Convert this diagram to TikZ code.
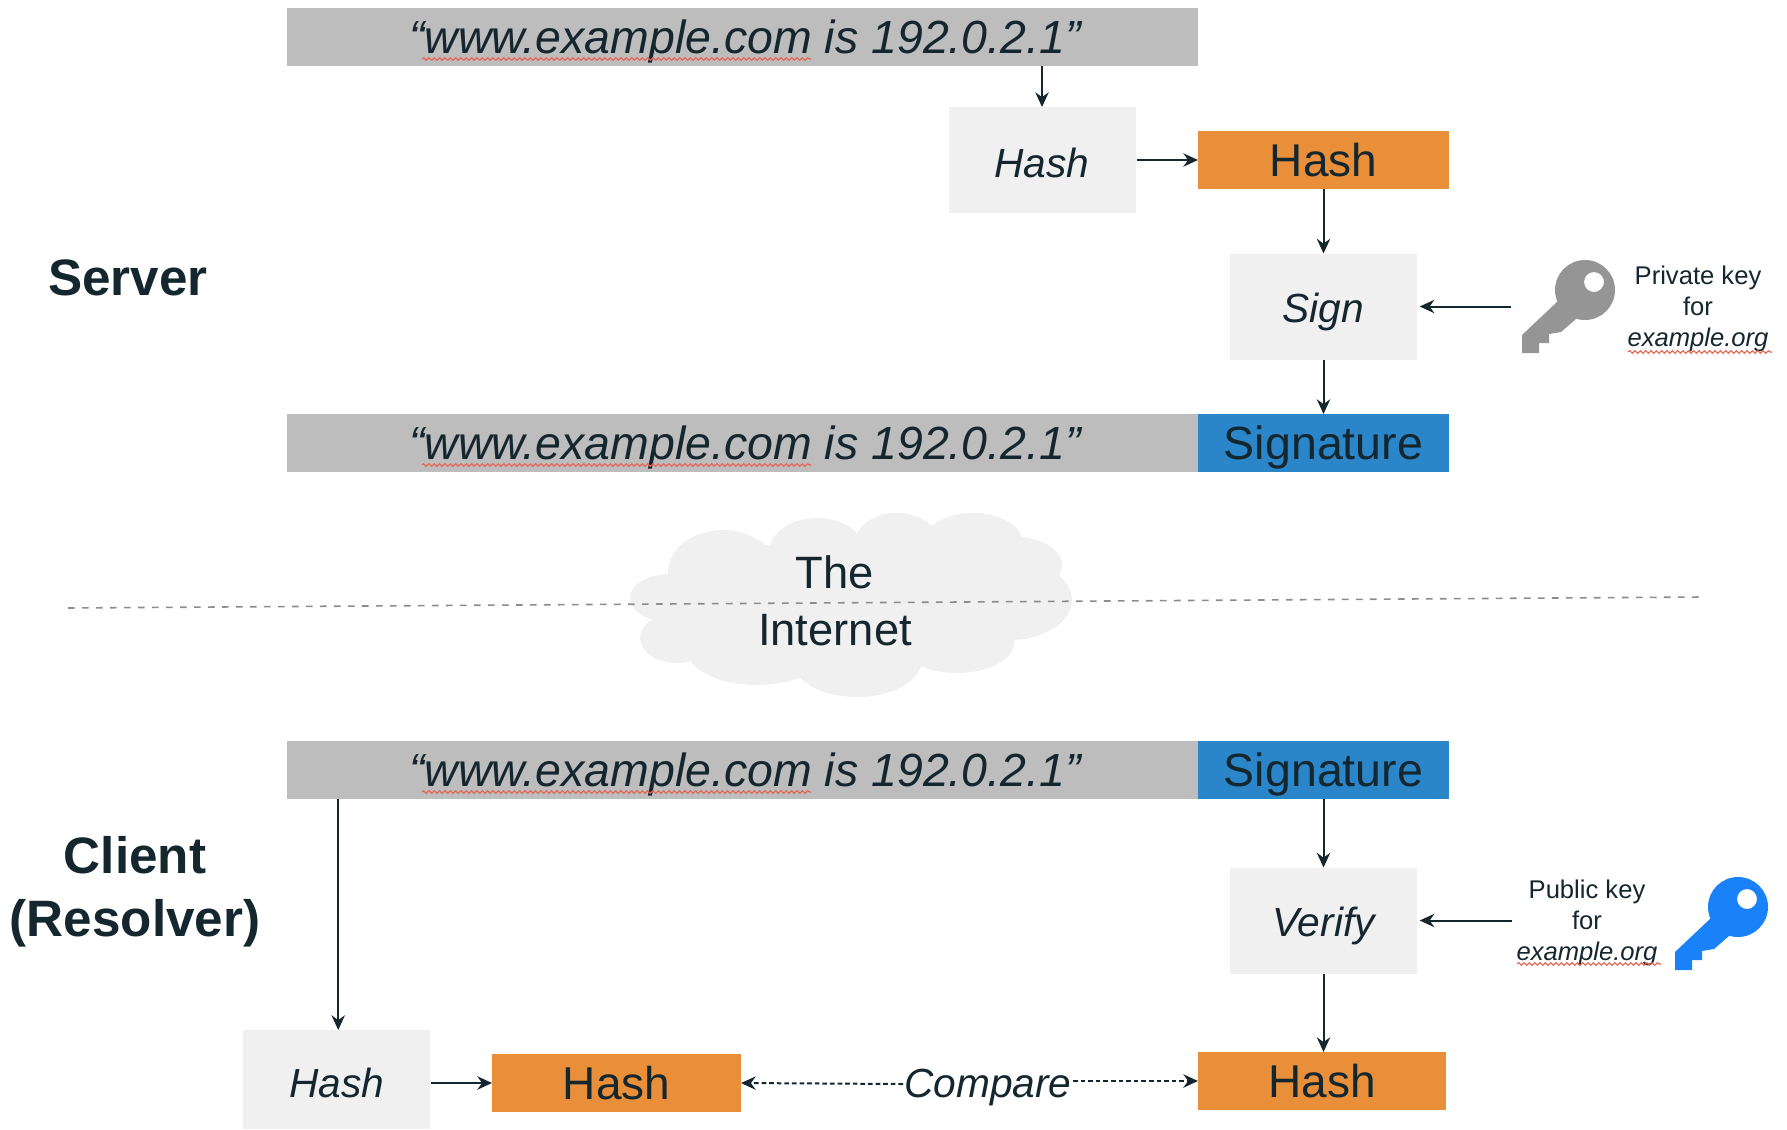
\documentclass[tikz,border=0pt]{standalone}
\usepackage{fontspec}
\setmainfont{Liberation Sans}
\usetikzlibrary{arrows.meta,decorations.pathmorphing}
\definecolor{ink}{HTML}{14262E}
\definecolor{barfill}{HTML}{BDBDBD}
\definecolor{softfill}{HTML}{F0F0F0}
\definecolor{hashfill}{HTML}{E98F3A}
\definecolor{sigfill}{HTML}{2A85C9}
\definecolor{keygray}{HTML}{959595}
\definecolor{keyblue}{HTML}{1A82F8}
\definecolor{spellred}{HTML}{E8604C}
\definecolor{dividergray}{HTML}{8C8C8C}
\tikzset{
  base/.style={inner sep=0pt,outer sep=0pt,text=ink,align=center},
  barbox/.style={base,fill=barfill,minimum width=683.25pt,minimum height=43.5pt,text height=32.4pt,text depth=7.6pt,font=\fontsize{34.85}{40}\selectfont\itshape},
  softbox/.style={base,fill=softfill,minimum width=140.25pt,minimum height=79.5pt,font=\fontsize{30.5}{36}\selectfont\itshape},
  softhash/.style={softbox,text height=33.3pt,text depth=6.7pt},
  softverb/.style={softbox,text height=32pt,text depth=8pt},
  hashbox/.style={base,fill=hashfill,minimum width=188pt,minimum height=43.5pt,text height=32.6pt,text depth=7.4pt,font=\fontsize{34.5}{40}\selectfont},
  sigbox/.style={base,fill=sigfill,minimum width=188.25pt,minimum height=43.5pt,text height=32.4pt,text depth=7.6pt,font=\fontsize{34.9}{40}\selectfont},
  rolelabel/.style={base,font=\fontsize{38.4}{47}\selectfont\bfseries},
  keylabel/.style={base,font=\fontsize{19.2}{23.4}\selectfont},
  cloudlabel/.style={base,font=\fontsize{34}{43}\selectfont},
  link/.style={draw=ink,line width=1.5pt,-{Stealth[length=11pt,width=10pt]}},
  cmplink/.style={link,line width=1.5pt,dash pattern=on 3.5pt off 2.2pt},
  divider/.style={draw=dividergray,line width=1.2pt,dash pattern=on 5pt off 5.5pt},
  spell/.style={draw=spellred,line width=.8pt,decorate,decoration={snake,segment length=4pt,amplitude=1pt}},
  pics/keyicon/.style={code={
    \fill[#1,even odd rule]
      (63,29) ellipse [x radius=30,y radius=30]
      (72,21) ellipse [x radius=10,y radius=10];
    \fill[#1] (38,42) -- (36,40) -- (0,74) -- (0,92) -- (17,92) -- (17,82) -- (27,82) -- (27,73)
      -- (39,71) -- (54,58) -- (60,40) -- cycle;
  }}
}
\begin{document}
\begin{tikzpicture}[x=0.75pt,y=-0.75pt]
\useasboundingbox (0,0) rectangle (1787,1129);

% cloud
\fill[softfill]
  (850,600) ellipse [x radius=180,y radius=62]
  (723,572) ellipse [x radius=55,y radius=42]
  (817,550) ellipse [x radius=47,y radius=32]
  (897,543) ellipse [x radius=42,y radius=30]
  (973,543) ellipse [x radius=50,y radius=30]
  (1017,565) ellipse [x radius=45,y radius=28]
  (1010,600) ellipse [x radius=62,y radius=40]
  (957,643) ellipse [x radius=57,y radius=30]
  (857,660) ellipse [x radius=65,y radius=37]
  (757,650) ellipse [x radius=70,y radius=35]
  (677,638) ellipse [x radius=37,y radius=25]
  (670,598) ellipse [x radius=40,y radius=24];

% divider
\coordinate (divleft) at (68,608);
\coordinate (divright) at (1702,597);
\draw[divider] (divleft) -- (divright);

\node[cloudlabel] (internet) at (835,601) {The\\Internet};

% role labels
\node[rolelabel] (server) at (128,278) {Server};
\node[rolelabel] (client) at (135,891.5) {Client\\(Resolver)};

% server side
\node[barbox] (msgA) at (742.5,37) {\hspace*{3.75pt}“www.example.com is 192.0.2.1”};
\node[softhash,minimum width=140.25pt] (hashA) at (1042,160) {Hash};
\node[hashbox,minimum width=188.25pt] (digestA) at (1323.5,160) {Hash};
\node[softverb] (sign) at (1323.5,306.5) {Sign};
\node[barbox] (msgB) at (742.5,443) {\hspace*{3.75pt}“www.example.com is 192.0.2.1”};
\node[sigbox] (sigB) at (1323.5,443) {Signature};

% client side
\node[barbox] (msgC) at (742.5,770) {\hspace*{3.75pt}“www.example.com is 192.0.2.1”};
\node[sigbox] (sigC) at (1323.5,770) {Signature};
\node[softverb] (verify) at (1323.5,920.5) {Verify};
\node[hashbox,minimum width=186pt] (digestR) at (1322,1081) {Hash};
\node[softhash,minimum height=74.25pt] (hashC) at (336.5,1079.5) {Hash};
\node[hashbox,minimum width=186.75pt] (digestL) at (616.5,1083) {Hash};
\node[base,font=\fontsize{30.5}{36}\selectfont\itshape,inner sep=1pt,text height=30pt,text depth=10pt] (compare) at (988,1084) {Compare};

% key captions
\node[keylabel] (privlabel) at (1698,309) {Private key\\for\\\textit{example.org}};
\node[keylabel] (publabel) at (1587,923) {Public key\\for\\\textit{example.org}};

% keys
\pic at (1522,261) {keyicon=keygray};
\pic at (1675,878) {keyicon=keyblue};

% spell-check underlines
\foreach \yy in {59,465,792}{
  \draw[spell] (422,\yy) -- (811,\yy);
}
\draw[spell] (1628,352) -- (1772,352);
\draw[spell] (1517,964) -- (1661,964);

% connectors
\coordinate (privtail) at (1511,306.5);
\coordinate (pubtail) at (1512,920.5);
\draw[link] (hashA |- msgA.south) -- (hashA.north);
\draw[link,shorten <=1pt] (hashA.east) -- (digestA.west);
\draw[link] (digestA.south) -- (sign.north);
\draw[link,shorten >=2pt] (privtail) -- (sign.east);
\draw[link] (sign.south) -- (sign |- sigB.north);
\draw[link] (sigC.south) -- (sigC |- verify.north);
\draw[link,shorten >=2pt] (pubtail) -- (verify.east);
\draw[link] (verify.south) -- (verify |- digestR.north);
\draw[link] ([xshift=1.3pt]hashC |- msgC.south) -- ([xshift=1.3pt]hashC.north);
\draw[link,shorten <=1pt] (hashC.east |- digestL.west) -- (digestL.west);
\draw[cmplink] (compare.west) -- (digestL.east);
\draw[cmplink] (compare.east |- digestR.west) -- (digestR.west);
\end{tikzpicture}
\end{document}
